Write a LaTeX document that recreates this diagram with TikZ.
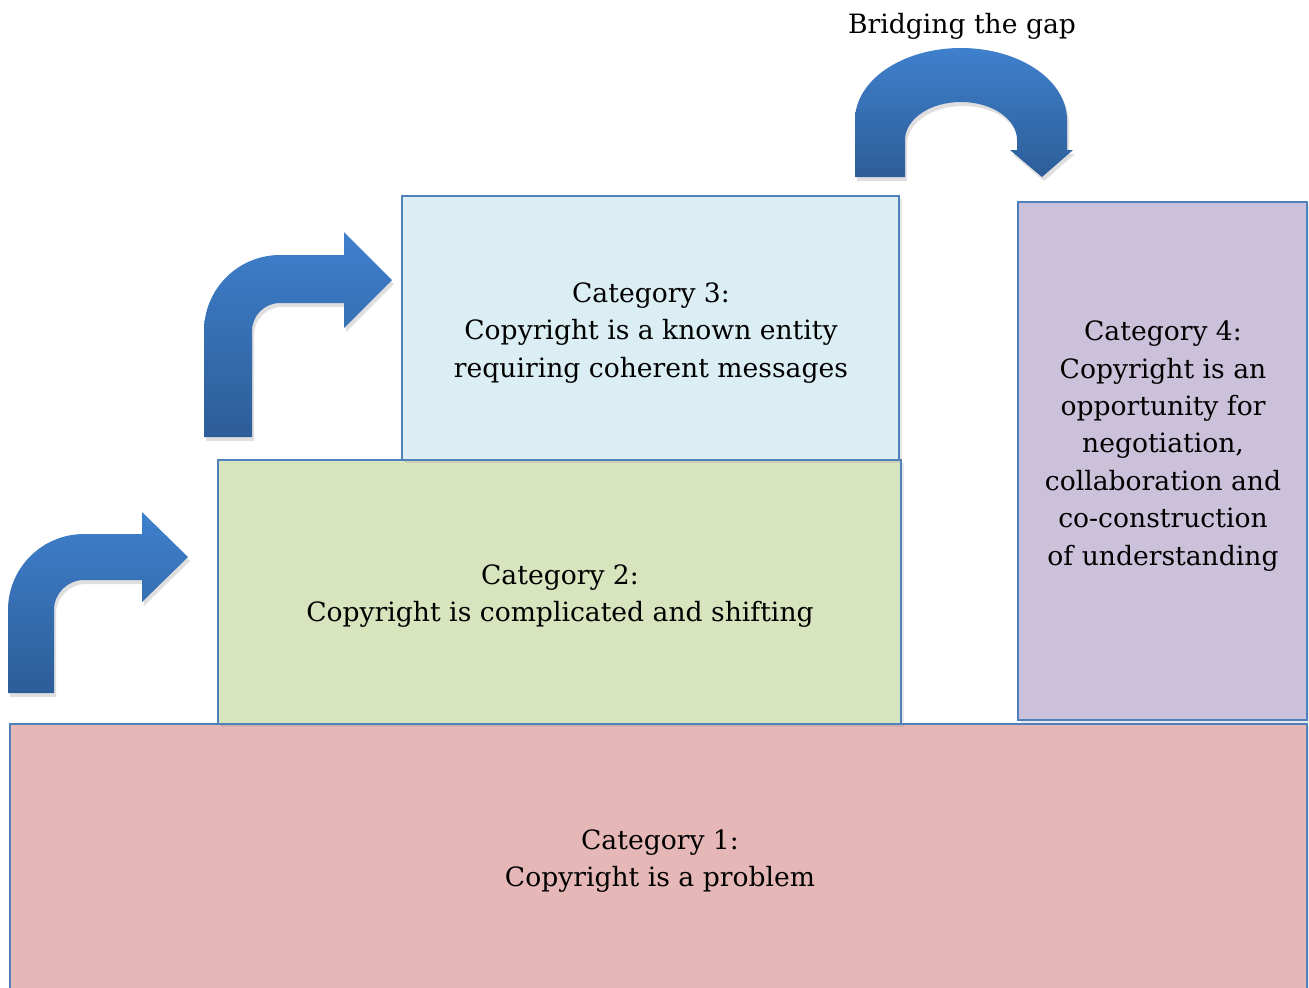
\documentclass[tikz,border=0pt]{standalone}
\usepackage{fontspec}
\setmainfont{DejaVu Serif}
\usetikzlibrary{shadows}
\definecolor{cpink}{HTML}{E5B8B7}
\definecolor{cgreen}{HTML}{D7E4BD}
\definecolor{cblue}{HTML}{DBEEF4}
\definecolor{cpurple}{HTML}{CCC1DA}
\definecolor{cborder}{HTML}{4F81BD}
\definecolor{atop}{HTML}{3F80CD}
\definecolor{abot}{HTML}{2D5D98}
\tikzset{
  catbox/.style={draw=cborder, line width=1.2pt, drop shadow={shadow xshift=1.5pt, shadow yshift=-1.5pt, opacity=0.18}},
  bluearrow/.style={top color=atop, bottom color=abot, draw=none, drop shadow={shadow xshift=1pt, shadow yshift=-2pt, opacity=0.25}},
  lbl/.style={align=center, font=\fontsize{13.3}{18.7}\selectfont, inner sep=0pt}
}
\begin{document}
\begin{tikzpicture}[x=0.5pt, y=-0.5pt]
\useasboundingbox (0,0) rectangle (1309,987);
% boxes
\path[catbox, fill=cpink] (10,724) rectangle (1307,1010);
\path[catbox, fill=cgreen] (218,460) rectangle (901,724);
\path[catbox, fill=cblue] (402,196) rectangle (899,460);
\path[catbox, fill=cpurple] (1018,202) rectangle (1307,720);
% texts
\node[lbl] (t1) at (660,861) {Category 1:\\Copyright is a problem};
\node[lbl] (t2) at (560,596) {Category 2:\\Copyright is complicated and shifting};
\node[lbl] (t3) at (651,333) {Category 3:\\Copyright is a known entity\\requiring coherent messages};
\node[lbl] (t4) at (1163,446) {Category 4:\\Copyright is an\\opportunity for\\negotiation,\\collaboration and\\co-construction\\of understanding};
\node[lbl] (tb) at (962,26) {Bridging the gap};
% arrows
\path[bluearrow] (8,693) -- (8,610) arc[start angle=180, end angle=270, radius=76]
  -- (142,534) -- (142,512) -- (188,557) -- (142,602) -- (142,580) -- (84,580)
  arc[start angle=270, end angle=180, radius=30] -- (54,693) -- cycle;
\path[bluearrow] (204,437) -- (204,331) arc[start angle=180, end angle=270, radius=76]
  -- (344,255) -- (344,232) -- (392,280) -- (344,328) -- (344,303) -- (280,303)
  arc[start angle=270, end angle=180, radius=28] -- (252,437) -- cycle;
\path[bluearrow] (855,177) -- (855,120) arc[start angle=180, end angle=360, x radius=106, y radius=72]
  -- (1067,150) -- (1073,150) -- (1042,177) -- (1010,150) -- (1017,150) -- (1017,140)
  arc[start angle=0, end angle=-180, x radius=56, y radius=38] -- (905,177) -- cycle;
\end{tikzpicture}
\end{document}
